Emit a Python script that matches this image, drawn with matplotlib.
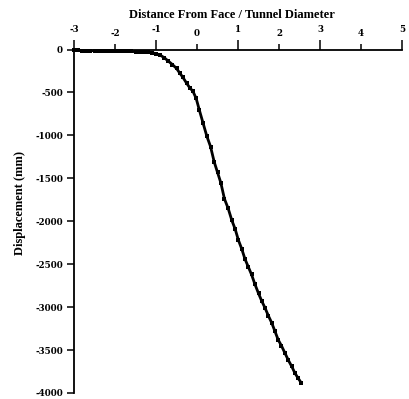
import numpy as np
import matplotlib
matplotlib.use("Agg")
import matplotlib.pyplot as plt
import matplotlib.ticker as mticker

plt.rcParams["font.family"] = ["Liberation Serif", "DejaVu Serif"]
plt.rcParams["axes.unicode_minus"] = False

# distance from face / tunnel diameter, displacement (mm)
dist = [-3.00, -2.90, -2.80, -2.70, -2.60, -2.50, -2.40, -2.30, -2.20, -2.10,
        -2.00, -1.90, -1.80, -1.70, -1.60, -1.50, -1.40, -1.30, -1.20, -1.10,
        -1.00, -0.90, -0.80, -0.70, -0.60, -0.50, -0.42, -0.35, -0.25, -0.17,
        -0.10, -0.02, 0.06, 0.15, 0.24, 0.33, 0.42, 0.50, 0.58, 0.67,
        0.76, 0.85, 0.93, 1.01, 1.09, 1.17, 1.25, 1.33, 1.41, 1.50,
        1.58, 1.66, 1.74, 1.82, 1.90, 1.98, 2.06, 2.15, 2.23, 2.31,
        2.39, 2.47, 2.54]
disp = [-10, -11, -12, -13, -13, -14, -15, -16, -17, -18,
        -19, -20, -21, -22, -23, -25, -27, -29, -32, -38,
        -48, -65, -95, -135, -175, -220, -275, -320, -395, -450,
        -485, -570, -710, -860, -1010, -1130, -1310, -1430, -1550, -1740,
        -1850, -1990, -2090, -2220, -2320, -2440, -2530, -2620, -2730, -2840,
        -2930, -3010, -3100, -3180, -3280, -3380, -3450, -3540, -3620, -3690,
        -3770, -3830, -3880]

x_major = [-3, -1, 1, 3, 5]
x_minor = [-2, 0, 2, 4]
y_ticks = [0, -500, -1000, -1500, -2000, -2500, -3000, -3500, -4000]

fig = plt.figure(figsize=(4.09, 3.99), dpi=100)
ax = fig.add_axes([74 / 409, 6 / 399, 328 / 409, 343.5 / 399])

ax.plot(dist, disp, color="black", lw=2.0, marker="s", ms=3.0, mew=0, clip_on=False)

ax.set_xlim(-3, 5)
ax.set_ylim(-4000, 0)

ax.spines["right"].set_visible(False)
ax.spines["bottom"].set_visible(False)
for s in ("left", "top"):
    ax.spines[s].set_linewidth(1.3)

ax.xaxis.tick_top()
ax.xaxis.set_label_position("top")
ax.xaxis.set_major_locator(mticker.FixedLocator(x_major))
ax.xaxis.set_minor_locator(mticker.FixedLocator(x_minor))
ax.xaxis.set_minor_formatter(mticker.FuncFormatter(lambda v, p: f"{v:g}"))
ax.tick_params(axis="x", which="major", length=7, width=1.1, pad=4)
ax.tick_params(axis="x", which="minor", length=4.3, width=1.1, pad=4)

ax.set_yticks(y_ticks)
ax.tick_params(axis="y", length=5, width=1.1, pad=3)

for lab in ax.get_xticklabels(which="both") + ax.get_yticklabels():
    lab.set_fontfamily("DejaVu Serif")
    lab.set_fontweight("bold")
    lab.set_fontsize(6.3)

ax.set_xlabel("Distance From Face / Tunnel Diameter", fontsize=9, fontweight="bold")
ax.xaxis.set_label_coords(0.48, 1.0 + 32 / 343.5)
ax.set_ylabel("Displacement (mm)", fontsize=9, fontweight="bold")
ax.yaxis.set_label_coords(-48 / 328, 0.553)

fig.savefig("out.png", dpi=100)
